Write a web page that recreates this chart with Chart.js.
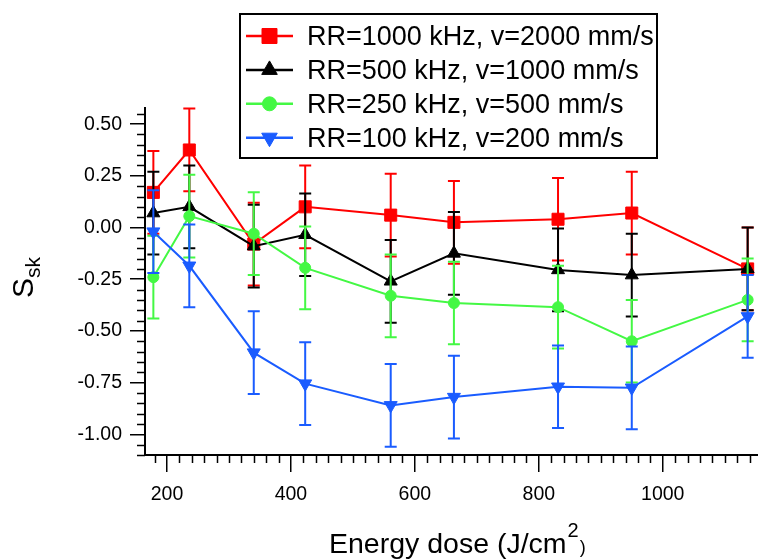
<!DOCTYPE html>
<html>
<head>
<meta charset="utf-8">
<script src="https://cdn.jsdelivr.net/npm/chart.js@4.4.0/dist/chart.umd.min.js"></script>
<style>
  html, body { margin: 0; padding: 0; background: #fff; overflow: hidden; }
  #wrap { position: relative; width: 758px; height: 559px; overflow: hidden; }
  #wrap canvas { position: absolute; left: 0; top: 0; }
  .ttl { position: absolute; font-family: "Liberation Sans", Arial, sans-serif; color: #000; white-space: nowrap; }
  #xtitle { left: 329px; top: 529px; font-size: 28.5px; line-height: 28.5px; }
  #xtitle .sup { font-size: 20px; position: relative; top: -16px; margin-left: 1px; }
  #xtitle .par { font-size: 18px; margin-left: 1px; }
  #ytitle { left: 8px; top: 298px; font-size: 30px; line-height: 30px; transform: rotate(-90deg); transform-origin: 0 0; }
  #ytitle .sub { font-size: 21px; position: relative; top: 7px; }
</style>
</head>
<body>
<div id="wrap">
  <canvas id="c" width="790" height="559"></canvas>
  <div class="ttl" id="xtitle">Energy dose (J/cm<span class="sup">2</span><span class="par">)</span></div>
  <div class="ttl" id="ytitle">S<span class="sub">sk</span></div>
</div>
<script>
// energy dose (J/cm2) of each measurement
var energyDose = [178, 236, 340, 423, 561, 663, 831, 950, 1137];

// Ssk for each repetition rate / speed
var rr1000 = [0.17, 0.375, -0.08, 0.10, 0.06, 0.025, 0.04, 0.07, -0.20];
var rr500  = [0.07, 0.10, -0.09, -0.035, -0.26, -0.125, -0.205, -0.23, -0.20];
var rr250  = [-0.24, 0.055, -0.03, -0.195, -0.33, -0.365, -0.385, -0.55, -0.35];
var rr100  = [-0.02, -0.185, -0.605, -0.755, -0.86, -0.82, -0.77, -0.775, -0.43];

// error bars (+/-)
var err1000 = [0.2, 0.2, 0.2, 0.2, 0.2, 0.2, 0.2, 0.2, 0.2];
var err500  = [0.2, 0.2, 0.2, 0.2, 0.2, 0.2, 0.2, 0.2, 0.2];
var err250  = [0.2, 0.2, 0.2, 0.2, 0.2, 0.2, 0.2, 0.2, 0.2];
var err100  = [0.2, 0.2, 0.2, 0.2, 0.2, 0.2, 0.2, 0.2, 0.2];

var seriesLabels = [
  "RR=1000 kHz, v=2000 mm/s",
  "RR=500 kHz, v=1000 mm/s",
  "RR=250 kHz, v=500 mm/s",
  "RR=100 kHz, v=200 mm/s"
];

var xTicks = [200, 400, 600, 800, 1000];
var yTicks = [-1.00, -0.75, -0.50, -0.25, 0.00, 0.25, 0.50];

var FONT = '"Liberation Sans", Arial, sans-serif';

function points(ys) {
  return energyDose.map(function(x, i) { return {x: x, y: ys[i]}; });
}

function series(idx, ys, errs, color, style, rot, radius, legendRadius, order) {
  return {
    label: seriesLabels[idx],
    data: points(ys),
    errors: errs,
    borderColor: color,
    backgroundColor: color,
    borderWidth: 2,
    tension: 0,
    pointStyle: style,
    pointRotation: rot,
    pointRadius: radius,
    pointBorderWidth: 1,
    pointBorderColor: color,
    pointBackgroundColor: color,
    legendRadius: legendRadius,
    order: order
  };
}

var errorBars = {
  id: 'errorBars',
  beforeDatasetDraw: function(chart, args) {
    var ds = chart.data.datasets[args.index];
    var ctx = chart.ctx;
    var y = chart.scales.y;
    ctx.save();
    ctx.strokeStyle = ds.borderColor;
    ctx.lineWidth = 2;
    args.meta.data.forEach(function(pt, i) {
      var v = ds.data[i].y, e = ds.errors[i];
      var yt = y.getPixelForValue(v + e), yb = y.getPixelForValue(v - e);
      ctx.beginPath();
      ctx.moveTo(pt.x, yt); ctx.lineTo(pt.x, yb);
      ctx.moveTo(pt.x - 6, yt); ctx.lineTo(pt.x + 6, yt);
      ctx.moveTo(pt.x - 6, yb); ctx.lineTo(pt.x + 6, yb);
      ctx.stroke();
    });
    ctx.restore();
  }
};

var minorTicks = {
  id: 'minorTicks',
  afterDraw: function(chart) {
    var ctx = chart.ctx, x = chart.scales.x, y = chart.scales.y, area = chart.chartArea;
    ctx.save();
    ctx.strokeStyle = '#000';
    ctx.lineWidth = 1.5;
    ctx.beginPath();
    for (var k = Math.ceil(x.min / 20); k * 20 <= x.max; k++) {
      if (k % 10 === 0) continue;
      var px = Math.round(x.getPixelForValue(k * 20)) + 0.5;
      ctx.moveTo(px, area.bottom); ctx.lineTo(px, area.bottom + 8);
    }
    for (var j = Math.ceil(y.min / 0.05 - 1e-9); j * 0.05 <= y.max + 1e-9; j++) {
      if (j % 5 === 0) continue;
      var py = Math.round(y.getPixelForValue(j * 0.05)) + 0.5;
      ctx.moveTo(area.left, py); ctx.lineTo(area.left - 8, py);
    }
    ctx.stroke();
    ctx.restore();
  }
};

var legendBox = {
  id: 'legendBox',
  afterDraw: function(chart) {
    var ctx = chart.ctx;
    ctx.save();
    ctx.fillStyle = '#fff';
    ctx.fillRect(240, 14, 417, 144);
    ctx.strokeStyle = '#000';
    ctx.lineWidth = 2;
    ctx.strokeRect(240, 14, 417, 144);
    ctx.font = '27px ' + FONT;
    ctx.textBaseline = 'alphabetic';
    chart.data.datasets.forEach(function(ds, i) {
      var base = 45 + i * 33.9;
      var cy = base - 9;
      ctx.strokeStyle = ds.borderColor;
      ctx.lineWidth = 2.5;
      ctx.beginPath(); ctx.moveTo(246, cy); ctx.lineTo(293, cy); ctx.stroke();
      ctx.fillStyle = ds.borderColor;
      ctx.lineWidth = 1;
      Chart.helpers.drawPoint(ctx, {
        pointStyle: ds.pointStyle, rotation: ds.pointRotation,
        radius: ds.legendRadius, borderWidth: 1
      }, 269.5, cy);
      ctx.fillStyle = '#000';
      ctx.fillText(ds.label, 307, base);
    });
    ctx.restore();
  }
};

var chart = new Chart(document.getElementById('c').getContext('2d'), {
  type: 'line',
  data: {
    datasets: [
      series(0, rr1000, err1000, '#ff0000', 'rect', 0, 8.5, 10.6, 4),
      series(1, rr500, err500, '#000000', 'triangle', 0, 7.5, 9, 3),
      series(2, rr250, err250, '#44f844', 'circle', 0, 5.5, 7, 2),
      series(3, rr100, err100, '#1a5cff', 'triangle', 180, 7.5, 9, 1)
    ]
  },
  options: {
    responsive: false,
    animation: false,
    layout: { padding: { left: 0, right: 0, top: 108, bottom: 0 } },
    plugins: { legend: { display: false }, tooltip: { enabled: false } },
    scales: {
      x: {
        type: 'linear',
        min: 164.5,
        max: 1190,
        afterBuildTicks: function(s) { s.ticks = xTicks.map(function(v) { return {value: v}; }); },
        afterFit: function(s) { s.height = 104; },
        border: { display: true, color: '#000', width: 2 },
        grid: { drawOnChartArea: false, drawTicks: true, tickLength: 17, color: '#000', lineWidth: 1.5 },
        ticks: {
          color: '#000', padding: 11, maxRotation: 0, autoSkip: false,
          font: { family: FONT, size: 19.5 },
          callback: function(v) { return String(v); }
        }
      },
      y: {
        min: -1.1,
        max: 0.578,
        afterBuildTicks: function(s) { s.ticks = yTicks.map(function(v) { return {value: v}; }); },
        afterFit: function(s) { s.width = 145; },
        border: { display: true, color: '#000', width: 2 },
        grid: { drawOnChartArea: false, drawTicks: true, tickLength: 15, color: '#000', lineWidth: 1.5 },
        ticks: {
          color: '#000', padding: 8, autoSkip: false,
          font: { family: FONT, size: 19.5 },
          callback: function(v) { return v.toFixed(2); }
        }
      }
    }
  },
  plugins: [errorBars, minorTicks, legendBox]
});
</script>
</body>
</html>
